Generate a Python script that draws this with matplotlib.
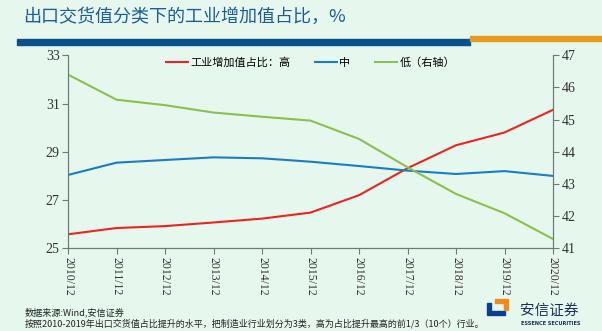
import matplotlib
matplotlib.use("Agg")
import matplotlib.pyplot as plt
from matplotlib.patches import Rectangle, Polygon

plt.rcParams['font.family'] = ['Noto Sans CJK SC', 'DejaVu Sans']

years = ["2010/12", "2011/12", "2012/12", "2013/12", "2014/12", "2015/12",
         "2016/12", "2017/12", "2018/12", "2019/12", "2020/12"]
high = [25.58, 25.84, 25.92, 26.07, 26.23, 26.48, 27.20, 28.32, 29.27, 29.80, 30.74]
mid = [28.04, 28.55, 28.66, 28.77, 28.73, 28.59, 28.41, 28.22, 28.08, 28.20, 28.00]
low = [46.40, 45.62, 45.45, 45.22, 45.09, 44.97, 44.40, 43.52, 42.69, 42.09, 41.29]

bg = '#E6F8EE'
fig = plt.figure(figsize=(6.02, 3.31), dpi=100, facecolor=bg)


def fx(px):
    return px / 602


def fy(py):
    return 1 - py / 331


# header
fig.text(fx(23), fy(17), "出口交货值分类下的工业增加值占比，%", fontsize=13,
         color='#1F5A9A', va='center', ha='left')
fig.patches.append(Rectangle((fx(17), fy(45)), (470 - 17) / 602, 6 / 331,
                             transform=fig.transFigure, color='#0B4F8C', zorder=1))
fig.patches.append(Rectangle((fx(470), fy(41)), 132 / 602, 5 / 331,
                             transform=fig.transFigure, color='#E89A1A', zorder=1))

ax = fig.add_axes([fx(68), fy(248.3), (553 - 68) / 602, (248.3 - 55.3) / 331])
ax.set_facecolor(bg)
x = list(range(len(years)))
l1, = ax.plot(x, high, color='#EE2222', lw=1.5, label='工业增加值占比：高')
l2, = ax.plot(x, mid, color='#1A7CC4', lw=1.5, label='中')
ax2 = ax.twinx()
l3, = ax2.plot(x, low, color='#8CBF4E', lw=1.5, label='低（右轴）')

ax.set_xlim(0, len(years) - 1)
ax.set_ylim(25, 33)
ax.set_yticks([25, 27, 29, 31, 33])
ax2.set_ylim(41, 47)
ax2.set_yticks(range(41, 48))
ax.set_xticks(x)
ax.set_xticklabels(years, rotation=-90, fontfamily='Liberation Serif', fontsize=8.5,
                   color='#333333')
for lab in ax.get_yticklabels() + ax2.get_yticklabels():
    lab.set_fontfamily('Liberation Serif')
    lab.set_fontsize(10)
    lab.set_color('#333333')

for a in (ax, ax2):
    a.spines['top'].set_visible(False)
    for s in ('left', 'right', 'bottom'):
        a.spines[s].set_color('#6E7B74')
    a.tick_params(colors='#6E7B74', length=4, width=0.8, labelcolor='#333333')
ax.tick_params(axis='y', pad=2)
ax2.tick_params(axis='y', pad=2)
ax.tick_params(axis='x', pad=2)

leg = ax.legend(handles=[l1, l2, l3], loc='upper center', bbox_to_anchor=(0.5, 1.04),
                ncol=3, frameon=False, fontsize=8, handlelength=2.0, handletextpad=0.2,
                columnspacing=2.2)

# footnotes
fig.text(fx(25), fy(312), "数据来源:Wind,安信证券", fontsize=6.6, va='center',
         color='#222222')
fig.text(fx(25), fy(324),
         "按照2010-2019年出口交货值占比提升的水平，把制造业行业划分为3类，高为占比提升最高的前1/3（10个）行业。",
         fontsize=6.5, va='center', color='#222222')

# logo
fig.patches.append(Polygon([(fx(487), fy(303)), (fx(491), fy(303)), (fx(491), fy(311)),
                            (fx(505), fy(311)), (fx(505), fy(315)), (fx(487), fy(315))],
                           closed=True, transform=fig.transFigure, color='#0B3F8C'))
fig.patches.append(Polygon([(fx(495), fy(299)), (fx(508), fy(299)), (fx(508), fy(310)),
                            (fx(504), fy(310)), (fx(504), fy(303)), (fx(495), fy(303))],
                           closed=True, transform=fig.transFigure, color='#F08A1C'))
fig.text(fx(520), fy(311), "安信证券", fontsize=10.5, color='#1E2E5A', va='center', ha='left')
fig.text(fx(521), fy(323.5), "ESSENCE SECURITIES", fontsize=3.6, color='#1E2E5A',
         va='center', ha='left', fontweight='bold', fontfamily='DejaVu Sans')

fig.savefig('out.png', dpi=100, facecolor=bg)
